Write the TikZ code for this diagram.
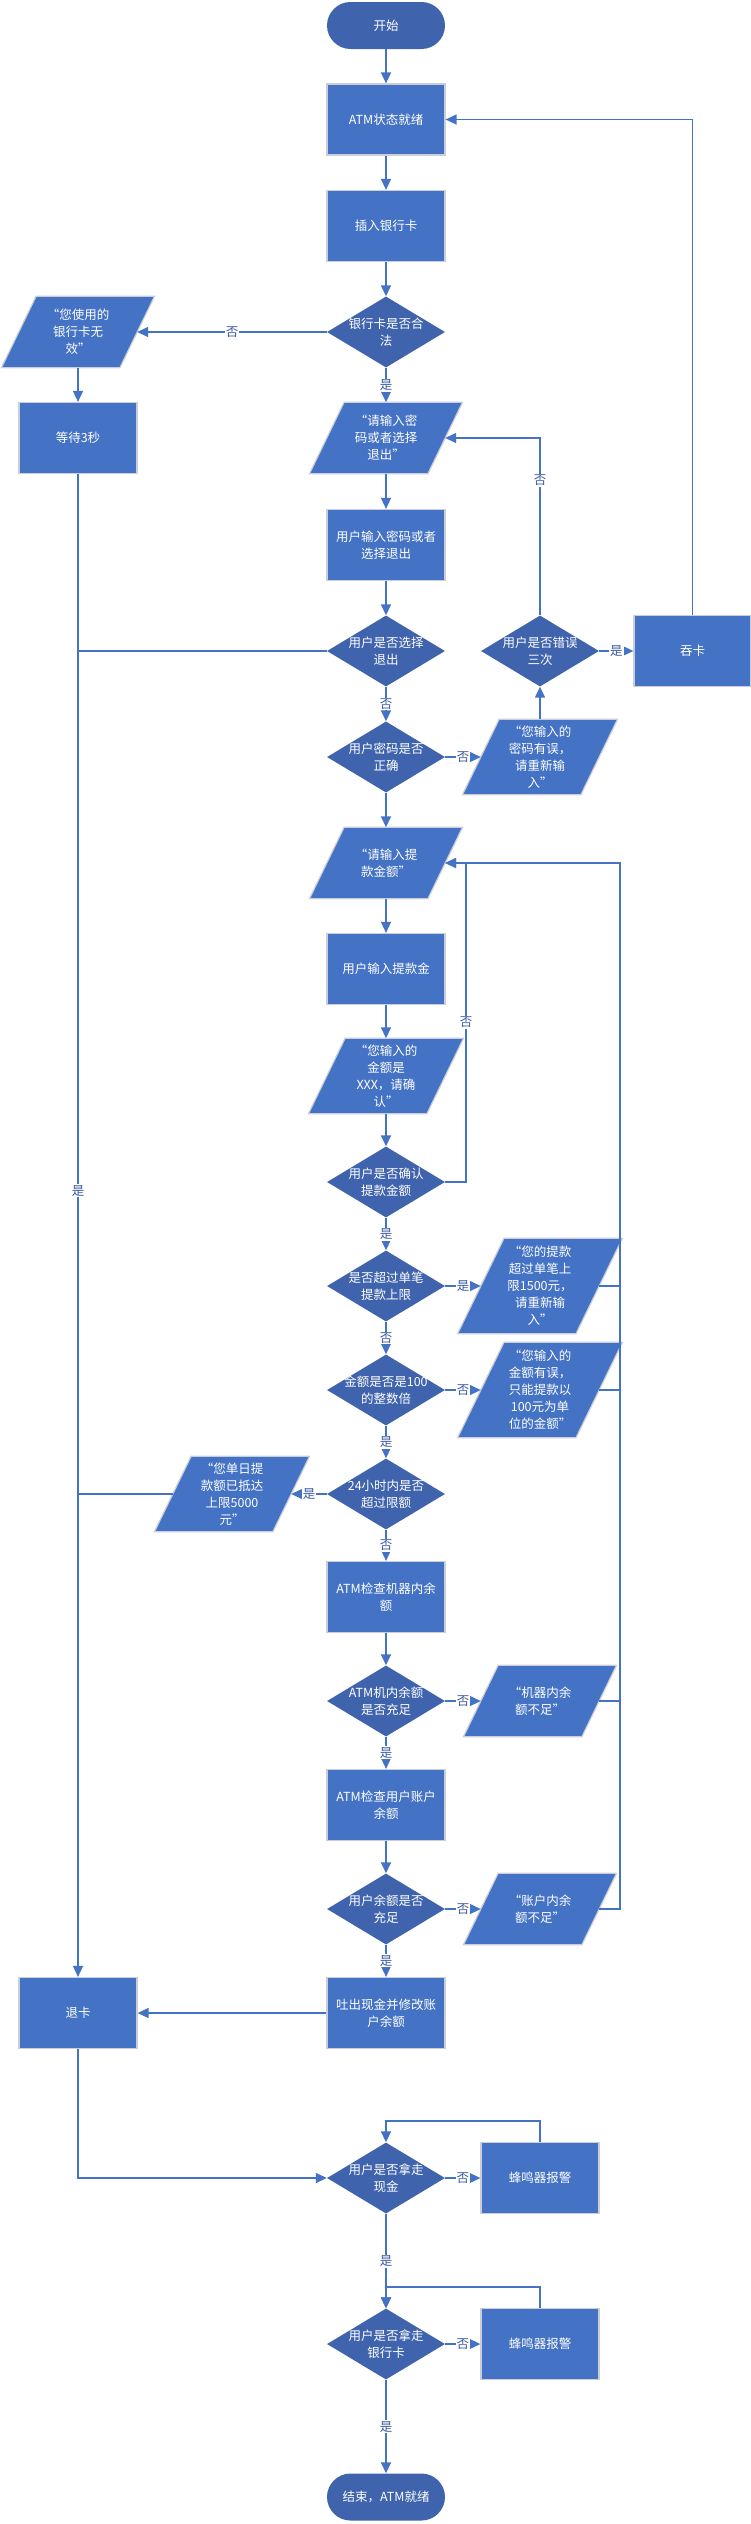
\documentclass[tikz,border=0pt]{standalone}
\usepackage{fontspec}
\setmainfont{Noto Sans CJK SC}
\usetikzlibrary{shapes.geometric,arrows.meta,backgrounds}
\definecolor{boxblue}{HTML}{4472C4}
\definecolor{decblue}{HTML}{3F63AC}
\definecolor{edgegrey}{HTML}{C9CED8}
\definecolor{lineblue}{HTML}{4472C4}
\definecolor{lblblue}{HTML}{3B5BA0}
\newcommand\paraback[2]{%
  \begin{pgfonlayer}{background}
  \path[parashape] ([xshift=-#2]#1.south west) -- ([xshift=-#2]#1.south east)
     -- ([xshift=#2]#1.north east) -- ([xshift=#2]#1.north west) -- cycle;
  \end{pgfonlayer}}
\begin{document}
\begin{tikzpicture}[x=1pt,y=-1pt,
  every node/.style={font=\fontsize{12.5}{17}\selectfont},
  txt/.style={text=white, align=center, inner sep=0pt},
  proc/.style={rectangle, fill=boxblue, draw=edgegrey, line width=1.2pt, minimum width=118pt, minimum height=71pt, inner sep=0pt, text=white, align=center},
  term/.style={rectangle, rounded corners=23.5pt, fill=decblue, minimum width=118pt, minimum height=47pt, inner sep=0pt, text=white, align=center},
  dec/.style={diamond, fill=decblue, minimum width=118pt, minimum height=71pt, inner sep=0pt},
  io/.style={rectangle, minimum width=118pt, minimum height=#1, inner sep=0pt, text=white, align=center},
  parashape/.style={fill=boxblue, draw=edgegrey, line width=1.2pt},
  ln/.style={draw=lineblue, line width=1.5pt},
  arr/.style={ln, -{Triangle[length=11pt,width=10pt]}},
  lbl/.style={fill=white, text=lblblue, inner sep=1pt}
]
\useasboundingbox (0,0) rectangle (751,2524);

% nodes
\node[term] (start) at (386,25.5) {开始};
\node[proc] (ready) at (386,119.5) {ATM状态就绪};
\node[proc] (insert) at (386,226) {插入银行卡};
\node[dec, label={[txt]center:银行卡是否合\\法}] (legal) at (386,332) {};
\node[io=71pt] (invalid) at (78,332) {“您使用的\\银行卡无\\效”};
\paraback{invalid}{17.3pt}
\node[proc] (wait) at (78,438) {等待3秒};
\node[io=71pt] (prompt) at (386,438) {“请输入密\\码或者选择\\退出”};
\paraback{prompt}{17.3pt}
\node[proc] (inpwd) at (386,545) {用户输入密码或者\\选择退出};
\node[dec, label={[txt]center:用户是否选择\\退出}] (quit) at (386,651) {};
\node[dec, label={[txt]center:用户密码是否\\正确}] (pwdok) at (386,757) {};
\node[io=75pt] (pwdbad) at (540,757) {“您输入的\\密码有误，\\请重新输\\入”};
\paraback{pwdbad}{18.3pt}
\node[dec, label={[txt]center:用户是否错误\\三次}] (three) at (540,651) {};
\node[proc, minimum width=117pt] (eat) at (692.5,651) {吞卡};
\node[io=71pt] (amtprompt) at (386,863) {“请输入提\\款金额”};
\paraback{amtprompt}{17.3pt}
\node[proc] (inamt) at (386,969) {用户输入提款金};
\node[io=75pt] (amtshow) at (386,1076) {“您输入的\\金额是\\XXX，请确\\认”};
\paraback{amtshow}{18.3pt}
\node[dec, label={[txt]center:用户是否确认\\提款金额}] (confirm) at (386,1182) {};
\node[dec, label={[txt]center:是否超过单笔\\提款上限}] (single) at (386,1286) {};
\node[io=95pt] (over) at (540,1286) {“您的提款\\超过单笔上\\限1500元，\\请重新输\\入”};
\paraback{over}{23.2pt}
\node[dec, label={[txt]center:金额是否是100\\的整数倍}] (hund) at (386,1390) {};
\node[io=95pt] (hundbad) at (540,1390) {“您输入的\\金额有误，\\只能提款以\\100元为单\\位的金额”};
\paraback{hundbad}{23.2pt}
\node[dec, label={[txt]center:24小时内是否\\超过限额}] (day) at (386,1494) {};
\node[io=75pt] (daybad) at (232,1494) {“您单日提\\款额已抵达\\上限5000\\元”};
\paraback{daybad}{18.3pt}
\node[proc] (chkatm) at (386,1597) {ATM检查机器内余\\额};
\node[dec, label={[txt]center:ATM机内余额\\是否充足}] (atmok) at (386,1701) {};
\node[io=71pt] (atmbad) at (540,1701) {“机器内余\\额不足”};
\paraback{atmbad}{17.3pt}
\node[proc] (chkusr) at (386,1805) {ATM检查用户账户\\余额};
\node[dec, label={[txt]center:用户余额是否\\充足}] (usrok) at (386,1909) {};
\node[io=71pt] (usrbad) at (540,1909) {“账户内余\\额不足”};
\paraback{usrbad}{17.3pt}
\node[proc] (cash) at (386,2013) {吐出现金并修改账\\户余额};
\node[proc] (eject) at (78,2013) {退卡};
\node[dec, label={[txt]center:用户是否拿走\\现金}] (takecash) at (386,2178) {};
\node[proc] (alarmA) at (540,2178) {蜂鸣器报警};
\node[dec, label={[txt]center:用户是否拿走\\银行卡}] (takecard) at (386,2344) {};
\node[proc] (alarmB) at (540,2344) {蜂鸣器报警};
\node[term] (end) at (386,2497) {结束，ATM就绪};
\coordinate (rloop) at (620,863);

% connectors
\draw[arr] (start) -- (ready);
\draw[arr] (ready) -- (insert);
\draw[arr] (insert) -- (legal);
\draw[arr] (legal) -- node[lbl]{否} (invalid);
\draw[arr] (legal) -- node[lbl]{是} (prompt);
\draw[arr] (invalid) -- (wait);
\draw[arr] (wait) -- node[lbl,pos=0.477]{是} (eject);
\draw[arr] (prompt) -- (inpwd);
\draw[arr] (inpwd) -- (quit);
\draw[ln] (quit.west) -- (quit.west -| wait.south);
\draw[arr] (quit) -- node[lbl]{否} (pwdok);
\draw[arr] (pwdok) -- node[lbl]{否} (pwdbad);
\draw[arr] (pwdbad) -- (three);
\draw[arr] (three.north) |- node[lbl,pos=0.38]{否} (prompt.east);
\draw[arr] (three) -- node[lbl]{是} (eat);
\draw[arr] (eat.north) |- (ready.east);
\draw[arr] (pwdok) -- (amtprompt);
\draw[arr] (amtprompt) -- (inamt);
\draw[arr] (inamt) -- (amtshow);
\draw[arr] (amtshow) -- (confirm);
\draw[arr] (confirm.east) -- ++(21,0) |- node[lbl,pos=0.25]{否} (amtprompt.east);
\draw[arr] (confirm) -- node[lbl]{是} (single);
\draw[arr] (single) -- node[lbl]{是} (over);
\draw[arr] (single) -- node[lbl]{否} (hund);
\draw[arr] (hund) -- node[lbl]{否} (hundbad);
\draw[arr] (hund) -- node[lbl]{是} (day);
\draw[arr] (day) -- node[lbl]{是} (daybad);
\draw[ln] (daybad.west) -- (daybad.west -| wait.south);
\draw[arr] (day) -- node[lbl]{否} (chkatm);
\draw[arr] (chkatm) -- (atmok);
\draw[arr] (atmok) -- node[lbl]{否} (atmbad);
\draw[arr] (atmok) -- node[lbl]{是} (chkusr);
\draw[arr] (chkusr) -- (usrok);
\draw[arr] (usrok) -- node[lbl]{否} (usrbad);
\draw[arr] (usrok) -- node[lbl]{是} (cash);
\draw[arr] (usrbad.east) -| (rloop) -- (amtprompt.east);
\draw[ln] (over.east) -- (over.east -| rloop);
\draw[ln] (hundbad.east) -- (hundbad.east -| rloop);
\draw[ln] (atmbad.east) -- (atmbad.east -| rloop);
\draw[arr] (cash) -- (eject);
\draw[arr] (eject.south) |- (takecash.west);
\draw[arr] (takecash) -- node[lbl]{否} (alarmA);
\draw[arr] (alarmA.north) -- ++(0,-21) -| (takecash.north);
\draw[arr] (takecash) -- node[lbl]{是} (takecard);
\draw[arr] (takecard) -- node[lbl]{否} (alarmB);
\draw[arr] (alarmB.north) -- ++(0,-21) -| (takecard.north);
\draw[arr] (takecard) -- node[lbl]{是} (end);
\end{tikzpicture}
\end{document}
